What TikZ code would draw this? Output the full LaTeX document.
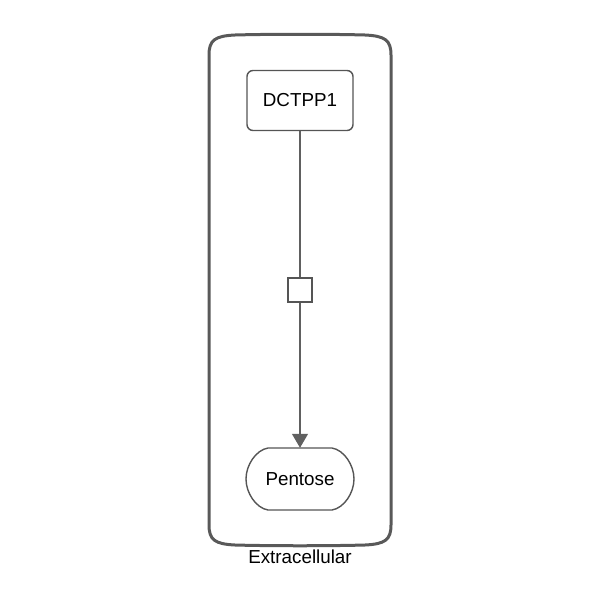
\documentclass[tikz,border=0pt]{standalone}
\usepackage{fontspec}
\setmainfont{Liberation Sans}
\usetikzlibrary{arrows.meta}
\definecolor{comp}{HTML}{595959}
\definecolor{nodeline}{HTML}{555555}
\definecolor{edge}{HTML}{606060}
\begin{document}
\begin{tikzpicture}[x=1pt,y=-1pt,
  lbl/.style={font=\fontsize{18.8}{22}\selectfont, text=black},
  gene/.style={draw=nodeline, line width=1.4pt, rounded corners=6pt, minimum width=106pt, minimum height=60pt, fill=white, lbl},
  proc/.style={draw=nodeline, line width=1.4pt, minimum size=24pt, fill=white, inner sep=0pt},
  conn/.style={draw=edge, line width=1.2pt},
  tip/.style={-{Triangle[length=14pt,width=16pt]}}
]
\useasboundingbox (0,0) rectangle (600,600);
% compartment
\draw[comp, line width=3pt] (209,55) .. controls (209,40) and (215,36) .. (235,35)
  .. controls (270,34) and (330,34) .. (365,35)
  .. controls (385,36) and (391,40) .. (391,55) -- (391,525)
  .. controls (391,540) and (385,544) .. (365,545)
  .. controls (330,546) and (270,546) .. (235,545)
  .. controls (215,544) and (209,540) .. (209,525) -- cycle;
\node[lbl] (extra) at (300,557) {Extracellular};
% nodes
\node[gene] (dctpp1) at (300,100.5) {DCTPP1};
\draw[nodeline, line width=1.4pt, fill=white] (268,448) -- (332,448)
  .. controls (344,450) and (354,465) .. (354,479)
  .. controls (354,493) and (344,508) .. (332,510) -- (268,510)
  .. controls (256,508) and (246,493) .. (246,479)
  .. controls (246,465) and (256,450) .. (268,448) -- cycle;
\node[lbl, minimum width=108pt, minimum height=62pt] (pentose) at (300,479) {Pentose};
\node[proc] (rxn) at (300,290) {};
% connectors
\draw[conn] (dctpp1.south) -- (rxn.north);
\draw[conn, tip, fill=edge] (rxn.south) -- (pentose.north);
\end{tikzpicture}
\end{document}
